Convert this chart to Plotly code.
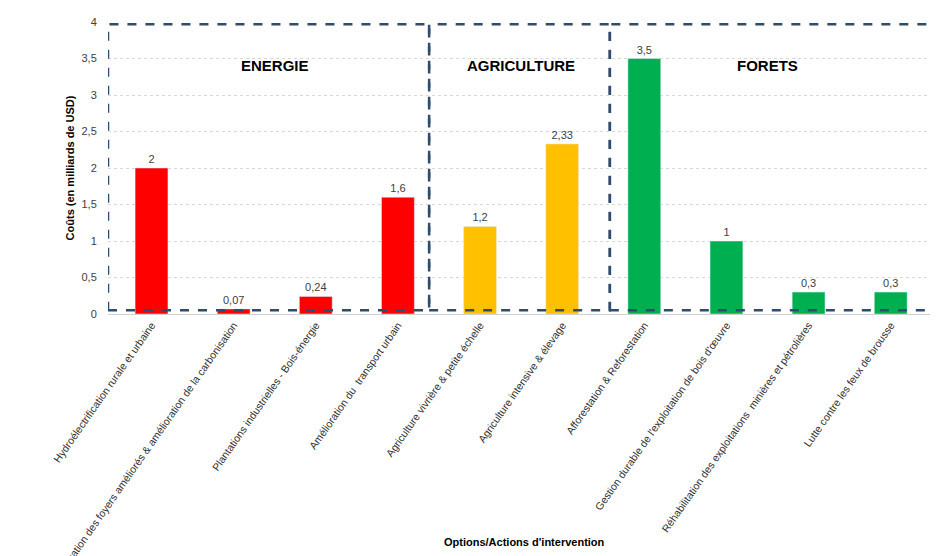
import plotly.graph_objects as go

categories = [
    "Hydroélectrification rurale et urbaine",
    "Vulgarisation des foyers améliorés & amélioration de la carbonisation",
    "Plantations industrielles - Bois-énergie",
    "Amélioration du  transport urbain",
    "Agriculture vivrière & petite échelle",
    "Agriculture intensive & élevage",
    "Afforestation & Reforestation",
    "Gestion durable de l'exploitation de bois d'œuvre",
    "Réhabilitation des exploitations  minières et pétrolières",
    "Lutte contre les feux de brousse",
]
values = [2, 0.07, 0.24, 1.6, 1.2, 2.33, 3.5, 1, 0.3, 0.3]
labels = ["2", "0,07", "0,24", "1,6", "1,2", "2,33", "3,5", "1", "0,3", "0,3"]
colors = ["#ff0000"] * 4 + ["#ffc000"] * 2 + ["#00b050"] * 4

groups = ["ENERGIE", "AGRICULTURE", "FORETS"]
group_bounds = [(-0.53, 3.38), (3.38, 5.58), (5.58, 9.6)]
group_label_x = [1.5, 4.5, 7.5]

fig = go.Figure(go.Bar(
    x=list(range(len(categories))), y=values, marker_color=colors, width=0.4,
    text=labels, textposition="outside", cliponaxis=False,
    textfont=dict(size=11, color="#404040"),
))

for (x0, x1), name, lx in zip(group_bounds, groups, group_label_x):
    fig.add_shape(type="rect", x0=x0, x1=x1, y0=0.05, y1=3.97,
                  line=dict(color="#2f4b6e", width=2.5, dash="dash"))
    fig.add_annotation(x=lx, y=3.4, text="<b>" + name + "</b>", showarrow=False,
                       font=dict(size=15, color="black"))

fig.add_annotation(xref="paper", yref="paper", x=0.5, y=-0.78, yanchor="middle",
                   showarrow=False, text="<b>Options/Actions d'intervention</b>",
                   font=dict(size=11, color="black"))

fig.update_layout(
    width=938, height=556,
    margin=dict(l=100, r=6, t=14, b=250),
    plot_bgcolor="white", paper_bgcolor="white",
    font=dict(family="Liberation Sans, Arial", color="#404040"),
    showlegend=False,
    xaxis=dict(
        tickvals=list(range(len(categories))), ticktext=categories,
        tickangle=-55, tickfont=dict(size=10.5, color="#303030"),
        range=[-0.53, 9.6], automargin=False,
        showline=True, linecolor="#d0d0d0",
    ),
    yaxis=dict(
        range=[0, 4], automargin=False,
        tickvals=[0, 0.5, 1, 1.5, 2, 2.5, 3, 3.5, 4],
        ticktext=["0", "0,5", "1", "1,5", "2", "2,5", "3", "3,5", "4"],
        tickfont=dict(size=11, color="#404040"),
        ticks="outside", ticklen=8, tickcolor="white",
        gridcolor="#d9d9d9", griddash="dot", zeroline=False,
        title=dict(text="<b>Coûts (en milliards de USD)</b>",
                   font=dict(size=11, color="black"), standoff=4),
    ),
)
fig.write_html("out.html")
